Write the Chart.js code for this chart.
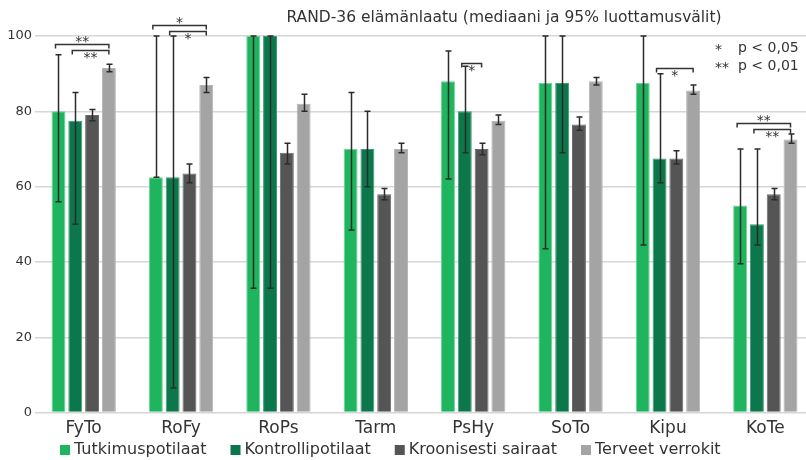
<!DOCTYPE html>
<html>
<head>
<meta charset="utf-8">
<script src="https://cdn.jsdelivr.net/npm/chart.js@4/dist/chart.umd.min.js"></script>
<style>
  html, body { margin: 0; padding: 0; background: #fff; overflow: hidden; }
  #wrap { width: 806px; height: 460px; overflow: hidden; }
  canvas { display: block; }
</style>
</head>
<body>
<div id="wrap"><canvas id="chart" width="814" height="460"></canvas></div>
<script>
const categories = ['FyTo', 'RoFy', 'RoPs', 'Tarm', 'PsHy', 'SoTo', 'Kipu', 'KoTe']
const seriesNames = ['Tutkimuspotilaat', 'Kontrollipotilaat', 'Kroonisesti sairaat', 'Terveet verrokit']

const tutkimus = [80, 62.5, 100, 70, 88, 87.5, 87.5, 55]
const tutkimusLow = [56, 62.5, 33, 48.5, 62, 43.5, 44.5, 39.5]
const tutkimusHigh = [95, 100, 100, 85, 96, 100, 100, 70]

const kontrolli = [77.5, 62.5, 100, 70, 80, 87.5, 67.5, 50]
const kontrolliLow = [50, 6.5, 33, 60, 69, 69, 61, 44.5]
const kontrolliHigh = [85, 100, 100, 80, 92, 100, 90, 70]

const krooniset = [79, 63.5, 69, 58, 70, 76.5, 67.5, 58]
const kroonisetLow = [77.5, 61, 66, 56.5, 68.5, 75, 66, 56.5]
const kroonisetHigh = [80.5, 66, 71.5, 59.5, 71.5, 78.5, 69.5, 59.5]

const terveet = [91.5, 87, 82, 70, 77.5, 88, 85.5, 72.5]
const terveetLow = [90.5, 85, 80, 69, 76.5, 87, 84.5, 71.5]
const terveetHigh = [92.5, 89, 84.5, 71.5, 79, 89, 87, 74]

const yTicks = [0, 20, 40, 60, 80, 100]

// significance brackets: category index, from series, to series, level, label
const sigCategory = [0, 0, 1, 1, 4, 6, 7, 7]
const sigFrom = [0, 1, 0, 1, 1, 1, 0, 1]
const sigTo = [3, 3, 3, 3, 2, 3, 3, 3]
const sigLevel = [98, 96.3, 103, 101.3, 92.8, 91.5, 76.9, 75.3]
const sigLabel = ['**', '**', '*', '*', '*', '*', '**', '**']
const sigAbove = [true, false, true, false, false, false, true, false]

const titleText = 'RAND-36 elämänlaatu (mediaani ja 95% luottamusvälit)'
const pStars = ['*', '**']
const pTexts = ['p < 0,05', 'p < 0,01']

const colors = ['#1fb45e', '#0b774a', '#555555', '#a4a4a4']
const edges = ['#6fd39a', '#3f9c70', '#6a6a6a', '#b4b4b4']

const values = [tutkimus, kontrolli, krooniset, terveet]
const lows = [tutkimusLow, kontrolliLow, kroonisetLow, terveetLow]
const highs = [tutkimusHigh, kontrolliHigh, kroonisetHigh, terveetHigh]

const FONT = '"DejaVu Sans", Verdana, sans-serif'

const errorBars = {
  id: 'errorBars',
  afterDatasetsDraw(chart) {
    const { ctx, scales: { y } } = chart
    ctx.save()
    ctx.strokeStyle = '#2b2b2b'
    ctx.lineWidth = 1.5
    values.forEach((_, ds) => {
      const meta = chart.getDatasetMeta(ds)
      meta.data.forEach((bar, i) => {
        const x = Math.round(bar.x) + 0.5
        const yl = y.getPixelForValue(lows[ds][i])
        const yh = y.getPixelForValue(highs[ds][i])
        ctx.beginPath()
        ctx.moveTo(x, yl)
        ctx.lineTo(x, yh)
        ctx.moveTo(x - 3, yl)
        ctx.lineTo(x + 3, yl)
        ctx.moveTo(x - 3, yh)
        ctx.lineTo(x + 3, yh)
        ctx.stroke()
      })
    })
    ctx.restore()
  },
}

const annotations = {
  id: 'annotations',
  afterDraw(chart) {
    const { ctx, scales: { y } } = chart
    ctx.save()
    ctx.strokeStyle = '#333'
    ctx.fillStyle = '#333'
    ctx.lineWidth = 1.5
    ctx.textAlign = 'center'
    ctx.font = '14px ' + FONT
    sigCategory.forEach((cat, k) => {
      const x1 = chart.getDatasetMeta(sigFrom[k]).data[cat].x - 3
      const x2 = chart.getDatasetMeta(sigTo[k]).data[cat].x
      const yy = Math.round(y.getPixelForValue(sigLevel[k])) + 0.5
      ctx.beginPath()
      ctx.moveTo(x1, yy + 4)
      ctx.lineTo(x1, yy)
      ctx.lineTo(x2, yy)
      ctx.lineTo(x2, yy + 4)
      ctx.stroke()
      const tx = (x1 + x2) / 2
      if (sigAbove[k]) {
        ctx.textBaseline = 'bottom'
        ctx.fillText(sigLabel[k], tx, yy + 5)
      } else {
        ctx.textBaseline = 'top'
        ctx.fillText(sigLabel[k], tx, yy + 1)
      }
    })

    // title and p-value key
    ctx.textBaseline = 'middle'
    ctx.font = '15.5px ' + FONT
    ctx.textAlign = 'center'
    ctx.fillText(titleText, 504, 18)
    ctx.font = '14px ' + FONT
    ctx.textAlign = 'left'
    pStars.forEach((s, k) => {
      ctx.fillText(s, 715, 50 + k * 18)
      ctx.fillText(pTexts[k], 738, 48 + k * 18)
    })

    // legend
    ctx.font = '16px ' + FONT
    let lx = 60
    seriesNames.forEach((name, i) => {
      ctx.fillStyle = colors[i]
      ctx.fillRect(lx, 445, 10, 10)
      lx += 14
      ctx.fillStyle = '#333'
      ctx.fillText(name, lx, 450)
      lx += ctx.measureText(name).width + 24
    })
    ctx.restore()
  },
}

new Chart(document.getElementById('chart'), {
  type: 'bar',
  data: {
    labels: categories,
    datasets: values.map((v, i) => ({
      label: seriesNames[i],
      data: v,
      backgroundColor: colors[i],
      borderColor: edges[i],
      borderWidth: 1,
      categoryPercentage: 0.69,
      barPercentage: 0.83,
    })),
  },
  options: {
    responsive: false,
    animation: false,
    layout: { padding: { top: 36, right: 0, left: 0, bottom: 15 } },
    plugins: {
      legend: { display: false },
      tooltip: { enabled: false },
    },
    scales: {
      x: {
        grid: { display: false, drawTicks: false },
        border: { display: false },
        ticks: { color: '#333', font: { family: FONT, size: 17 }, padding: 6 },
      },
      y: {
        min: 0,
        max: 100,
        afterFit(scale) { scale.width = 35 },
        afterBuildTicks(scale) { scale.ticks = yTicks.map(v => ({ value: v })) },
        grid: { color: '#d6d6d6', lineWidth: 1.5, drawTicks: false },
        border: { display: false },
        ticks: { color: '#333', font: { family: FONT, size: 13 }, padding: 3 },
      },
    },
  },
  plugins: [errorBars, annotations],
})
</script>
</body>
</html>
